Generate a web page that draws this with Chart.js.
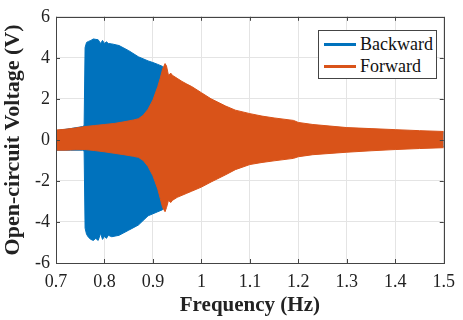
<!DOCTYPE html>
<html>
<head>
<meta charset="utf-8">
<script src="https://cdn.jsdelivr.net/npm/chart.js"></script>
<style>
  body { margin: 0; background: #fff; }
  #wrap { position: relative; width: 463px; height: 320px; }
  #legend {
    position: absolute; left: 318px; top: 30px; width: 117px; height: 47px;
    border: 1px solid #444; background: #fff;
    font-family: "Liberation Serif", Tinos, "Times New Roman", "DejaVu Serif", serif; font-size: 18px; color: #111;
  }
  .item { position: absolute; left: 5px; height: 22px; line-height: 22px; white-space: nowrap; }
  .item span.swatch { display: inline-block; width: 32px; height: 3px; vertical-align: middle; margin-right: 4px; position: relative; top: -1px; }
</style>
</head>
<body>
<div id="wrap">
  <canvas id="c" width="463" height="320"></canvas>
  <div id="legend"></div>
</div>
<script>
// envelope of the backward sweep
const freqBack = [0.70, 0.73, 0.755, 0.758, 0.760, 0.763, 0.767, 0.772, 0.777, 0.782, 0.787, 0.792, 0.796, 0.800, 0.804, 0.808, 0.815, 0.83, 0.85, 0.87, 0.89, 0.90, 0.91, 0.92, 0.93, 0.95, 1.00, 1.05, 1.10, 1.20, 1.30, 1.40, 1.50];
const backUpper = [0.45, 0.55, 0.65, 0.70, 4.5, 4.75, 4.8, 4.85, 4.92, 4.9, 4.88, 4.7, 4.85, 4.7, 4.78, 4.7, 4.68, 4.6, 4.35, 4.05, 3.85, 3.77, 3.68, 3.58, 2.8, 2.6, 2.0, 1.4, 1.1, 0.75, 0.55, 0.45, 0.35];
const backLower = [-0.5, -0.5, -0.5, -0.55, -4.3, -4.6, -4.75, -4.85, -4.9, -4.8, -4.9, -4.55, -4.85, -4.7, -4.8, -4.65, -4.72, -4.65, -4.4, -4.15, -3.7, -3.6, -3.5, -3.4, -2.8, -2.5, -2.0, -1.4, -1.0, -0.72, -0.5, -0.4, -0.32];

// envelope of the forward sweep
const freqFwd = [0.70, 0.72, 0.74, 0.76, 0.78, 0.80, 0.82, 0.84, 0.86, 0.87, 0.88, 0.89, 0.90, 0.91, 0.915, 0.92, 0.925, 0.928, 0.932, 0.937, 0.94, 0.95, 0.96, 0.97, 0.98, 1.00, 1.02, 1.05, 1.07, 1.10, 1.125, 1.15, 1.19, 1.20, 1.23, 1.30, 1.35, 1.40, 1.45, 1.50];
const fwdUpper = [0.48, 0.52, 0.58, 0.65, 0.7, 0.75, 0.8, 0.88, 0.97, 1.03, 1.2, 1.5, 1.95, 2.6, 3.0, 3.45, 3.72, 3.6, 3.15, 3.25, 3.15, 3.0, 2.85, 2.72, 2.6, 2.3, 2.0, 1.65, 1.45, 1.28, 1.16, 1.07, 0.95, 0.85, 0.75, 0.6, 0.55, 0.5, 0.45, 0.41];
const fwdLower = [-0.5, -0.5, -0.48, -0.47, -0.52, -0.58, -0.65, -0.72, -0.8, -0.85, -1.0, -1.3, -1.75, -2.4, -2.85, -3.3, -3.5, -3.3, -2.95, -3.05, -2.95, -2.8, -2.7, -2.6, -2.5, -2.3, -2.05, -1.7, -1.45, -1.2, -1.1, -1.02, -0.9, -0.82, -0.72, -0.6, -0.53, -0.47, -0.42, -0.38];

const xTickLabels = ['0.7', '0.8', '0.9', '1', '1.1', '1.2', '1.3', '1.4', '1.5'];
const yTickLabels = ['-6', '-4', '-2', '0', '2', '4', '6'];

const BLUE = '#0072BD';
const ORANGE = '#D95319';
const serif = '"Liberation Serif", Tinos, "Times New Roman", "DejaVu Serif", serif';

const pts = (xs, ys) => xs.map((x, i) => ({ x: x, y: ys[i] }));

function band(label, xs, ys, color, fill, order) {
    return {
        label: label,
        data: pts(xs, ys),
        borderColor: color,
        backgroundColor: color,
        borderWidth: 1,
        pointRadius: 0,
        tension: 0,
        fill: fill,
        order: order
    };
}

// frame + inward ticks, MATLAB style
const boxPlugin = {
    id: 'box',
    afterDatasetsDraw(chart) {
        const { ctx, chartArea: a, scales } = chart;
        ctx.save();
        ctx.strokeStyle = '#444';
        ctx.lineWidth = 1;
        ctx.strokeRect(Math.round(a.left) + 0.5, Math.round(a.top) + 0.5,
            Math.round(a.right - a.left), Math.round(a.bottom - a.top));
        ctx.beginPath();
        scales.x.ticks.forEach(t => {
            const px = Math.round(scales.x.getPixelForValue(t.value)) + 0.5;
            ctx.moveTo(px, a.bottom); ctx.lineTo(px, a.bottom - 4);
            ctx.moveTo(px, a.top); ctx.lineTo(px, a.top + 4);
        });
        scales.y.ticks.forEach(t => {
            const py = Math.round(scales.y.getPixelForValue(t.value)) + 0.5;
            ctx.moveTo(a.left, py); ctx.lineTo(a.left + 4, py);
            ctx.moveTo(a.right, py); ctx.lineTo(a.right - 4, py);
        });
        ctx.stroke();
        ctx.restore();
    }
};

const chart = new Chart(document.getElementById('c'), {
    type: 'line',
    data: {
        datasets: [
            band('Backward', freqBack, backUpper, BLUE, '+1', 2),
            band('Backward lower', freqBack, backLower, BLUE, false, 2),
            band('Forward', freqFwd, fwdUpper, ORANGE, '+1', 1),
            band('Forward lower', freqFwd, fwdLower, ORANGE, false, 1)
        ]
    },
    options: {
        responsive: false,
        animation: false,
        layout: { padding: { left: 0, right: 11, top: 15, bottom: 0 } },
        plugins: {
            legend: { display: false },
            tooltip: { enabled: false },
            filler: { drawTime: 'beforeDatasetDraw' }
        },
        scales: {
            x: {
                type: 'linear',
                min: 0.7,
                max: 1.5,
                ticks: {
                    stepSize: 0.1,
                    color: '#222',
                    padding: 8,
                    maxRotation: 0,
                    font: { family: serif, size: 18 },
                    callback: (v, i) => xTickLabels[i]
                },
                grid: { color: '#e4e4e4', drawTicks: false },
                border: { display: false },
                title: {
                    display: true,
                    text: 'Frequency (Hz)',
                    color: '#222',
                    font: { family: serif, size: 21, weight: 'bold' },
                    padding: { top: 0, bottom: 2 }
                },
                afterFit: s => { s.height = 57; }
            },
            y: {
                min: -6,
                max: 6,
                ticks: {
                    stepSize: 2,
                    color: '#222',
                    padding: 6,
                    font: { family: serif, size: 18 },
                    callback: (v, i) => yTickLabels[i]
                },
                grid: { color: '#e4e4e4', drawTicks: false },
                border: { display: false },
                title: {
                    display: true,
                    text: 'Open-circuit Voltage (V)',
                    color: '#222',
                    font: { family: serif, size: 22, weight: 'bold' },
                    padding: { top: 0, bottom: 0 }
                },
                afterFit: s => { s.width = 56; }
            }
        }
    },
    plugins: [boxPlugin]
});

// legend from the dataset labels
const legend = document.getElementById('legend');
chart.data.datasets.filter(d => !/lower/.test(d.label)).forEach((d, i) => {
    const item = document.createElement('div');
    item.className = 'item';
    item.style.top = (2 + i * 22) + 'px';
    item.innerHTML = '<span class="swatch" style="background:' + d.borderColor + '"></span>' + d.label;
    legend.appendChild(item);
});
</script>
</body>
</html>
